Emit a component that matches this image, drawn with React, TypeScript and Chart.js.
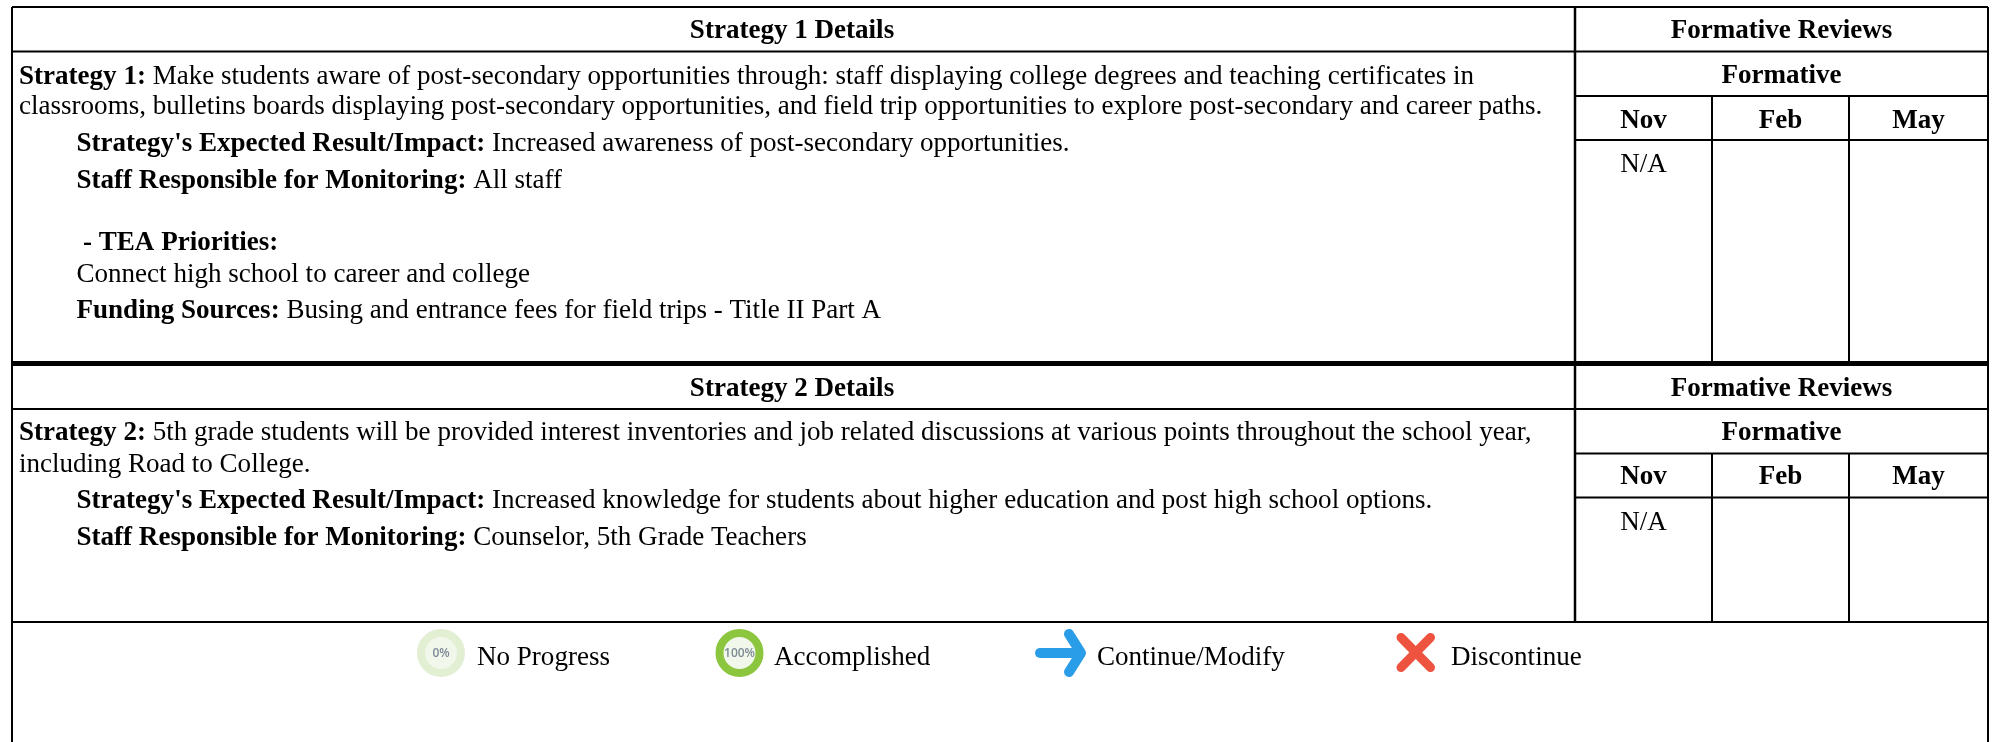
import React, { useEffect, useRef } from "react";
import { Chart, registerables } from "chart.js";

Chart.register(...registerables);

const WIDTH = 1993;
const HEIGHT = 742;
const SERIF = '"Liberation Serif"';
const BODY_PX = 27.05;

// Table structure
const columnEdges = [12, 1575, 1712, 1849, 1988];
const rowEdges = [7, 51.5, 96, 140, 363.5, 409, 453.5, 497.5, 622, 742];

// Text content: each line is a bold run then a regular run
const headerLabels = ["Strategy 1 Details", "Strategy 2 Details"];
const reviewLabels = ["Formative Reviews", "Formative"];
const monthLabels = ["Nov", "Feb", "May"];
const cellValue = "N/A";

const strategy1Lines: [string, string][] = [
  ["Strategy 1:", " Make students aware of post-secondary opportunities through: staff displaying college degrees and teaching certificates in"],
  ["", "classrooms, bulletins boards displaying post-secondary opportunities, and field trip opportunities to explore post-secondary and career paths."],
  ["Strategy's Expected Result/Impact:", " Increased awareness of post-secondary opportunities."],
  ["Staff Responsible for Monitoring:", " All staff"],
  ["- TEA Priorities:", ""],
  ["", "Connect high school to career and college"],
  ["Funding Sources:", " Busing and entrance fees for field trips - Title II Part A"],
];
const strategy1Baselines = [84, 114, 151, 188, 250, 282, 318];
const strategy1Indents = [19, 19, 76.5, 76.5, 83, 76.5, 76.5];

const strategy2Lines: [string, string][] = [
  ["Strategy 2:", " 5th grade students will be provided interest inventories and job related discussions at various points throughout the school year,"],
  ["", "including Road to College."],
  ["Strategy's Expected Result/Impact:", " Increased knowledge for students about higher education and post high school options."],
  ["Staff Responsible for Monitoring:", " Counselor, 5th Grade Teachers"],
];
const strategy2Baselines = [440, 472, 508, 545];
const strategy2Indents = [19, 19, 76.5, 76.5];

const legendLabels = ["No Progress", "Accomplished", "Continue/Modify", "Discontinue"];
const legendLabelX = [477, 774, 1097, 1451];
const progressLabels = ["0%", "100%"];

const INK = "#000000";

function rule(x1: number, y1: number, x2: number, y2: number, width: number, color: string = INK) {
  return {
    data: [{ x: x1, y: y1 }, { x: x2, y: y2 }],
    showLine: true,
    borderColor: color,
    borderWidth: width,
    pointRadius: 0,
    clip: false as const,
  };
}

function stroke(points: { x: number; y: number }[], color: string, width: number) {
  return {
    data: points,
    showLine: true,
    borderColor: color,
    borderWidth: width,
    borderCapStyle: "round" as const,
    borderJoinStyle: "round" as const,
    pointRadius: 0,
    clip: false as const,
  };
}

function ring(x: number, y: number, color: string) {
  return {
    data: [{ x, y }],
    showLine: false,
    pointRadius: 20,
    pointBorderWidth: 8,
    pointBorderColor: color,
    pointBackgroundColor: "#f1f7ea",
    clip: false as const,
  };
}

function buildDatasets() {
  const [c0, c1, c2, c3, c4] = columnEdges;
  const [r0, r1, r2, r3, r4, r5, r6, r7, r8, r9] = rowEdges;
  return [
    // outer frame and column dividers
    rule(c0, r0, c4, r0, 2),
    rule(c0, r0, c0, r9, 2),
    rule(c4, r0, c4, r9, 2),
    rule(c1, r0, c1, r8, 2.5),
    rule(c2, r2, c2, r4, 2),
    rule(c3, r2, c3, r4, 2),
    rule(c2, r6, c2, r8, 2),
    rule(c3, r6, c3, r8, 2),
    // horizontals
    rule(c0, r1, c4, r1, 2),
    rule(c1, r2, c4, r2, 2),
    rule(c1, r3, c4, r3, 2),
    rule(c0, r4, c4, r4, 5),
    rule(c0, r4, c4, r4, 1, "#8a8a8a"),
    rule(c0, r5, c4, r5, 2),
    rule(c1, r6, c4, r6, 2),
    rule(c1, r7, c4, r7, 2),
    rule(c0, r8, c4, r8, 2),
    // legend symbols
    ring(441, 653, "#e3efd3"),
    ring(739.5, 653, "#8cc63f"),
    stroke([{ x: 1040, y: 653 }, { x: 1080, y: 653 }], "#2a9de8", 10),
    stroke([{ x: 1069, y: 634 }, { x: 1081, y: 653 }, { x: 1069, y: 672 }], "#2a9de8", 10),
    stroke([{ x: 1401, y: 637.5 }, { x: 1430.5, y: 667.5 }], "#ee5340", 9),
    stroke([{ x: 1430.5, y: 637.5 }, { x: 1401, y: 667.5 }], "#ee5340", 9),
  ];
}

const tablePlugin = {
  id: "tableText",
  afterDatasetsDraw(chart: any) {
    const ctx: CanvasRenderingContext2D = chart.ctx;
    const px = (v: number) => chart.scales.x.getPixelForValue(v);
    const py = (v: number) => chart.scales.y.getPixelForValue(v);
    const bold = `bold ${BODY_PX}px ${SERIF}`;
    const normal = `${BODY_PX}px ${SERIF}`;

    ctx.save();
    ctx.fillStyle = INK;
    ctx.textBaseline = "alphabetic";

    const centered = (text: string, x: number, y: number, font: string) => {
      ctx.font = font;
      ctx.textAlign = "center";
      ctx.fillText(text, px(x), py(y));
    };
    const runs = (lines: [string, string][], xs: number[], ys: number[]) => {
      ctx.textAlign = "left";
      lines.forEach(([b, n], i) => {
        let x = px(xs[i]);
        if (b) {
          ctx.font = bold;
          ctx.fillText(b, x, py(ys[i]));
          x += ctx.measureText(b).width;
        }
        if (n) {
          ctx.font = normal;
          ctx.fillText(n, x, py(ys[i]));
        }
      });
    };

    const [c0, c1, c2, c3, c4] = columnEdges;
    const textMid = (c0 + c1) / 2 - 1.5;
    const reviewMid = (c1 + c4) / 2;
    const monthMids = [(c1 + c2) / 2, (c2 + c3) / 2, (c3 + c4) / 2];

    const blocks = [
      { head: 38, form: 83, month: 127.5, value: 172 },
      { head: 396, form: 440, month: 484, value: 530 },
    ];
    blocks.forEach((b, i) => {
      centered(headerLabels[i], textMid, b.head, bold);
      centered(reviewLabels[0], reviewMid, b.head, bold);
      centered(reviewLabels[1], reviewMid, b.form, bold);
      monthLabels.forEach((m, j) => centered(m, monthMids[j], b.month, bold));
      centered(cellValue, monthMids[0], b.value, normal);
    });

    runs(strategy1Lines, strategy1Indents, strategy1Baselines);
    runs(strategy2Lines, strategy2Indents, strategy2Baselines);

    ctx.textAlign = "left";
    ctx.font = normal;
    legendLabels.forEach((t, i) => ctx.fillText(t, px(legendLabelX[i]), py(665)));

    ctx.fillStyle = "#7d8a96";
    const badge = `600 12px "Open Sans"`;
    centered(progressLabels[0], 441, 657, badge);
    centered(progressLabels[1], 739.5, 657, badge);
    ctx.restore();
  },
};

export default function App() {
  const ref = useRef<HTMLCanvasElement>(null);
  useEffect(() => {
    if (!ref.current) return;
    const chart = new Chart(ref.current, {
      type: "scatter",
      data: { datasets: buildDatasets() as any },
      options: {
        animation: false,
        responsive: false,
        events: [],
        layout: { padding: 0, autoPadding: false },
        scales: {
          x: { type: "linear", display: false, min: 0, max: WIDTH },
          y: { type: "linear", display: false, min: 0, max: HEIGHT, reverse: true },
        },
        plugins: { legend: { display: false }, tooltip: { enabled: false }, title: { display: false } },
      },
      plugins: [tablePlugin],
    });
    return () => chart.destroy();
  }, []);
  return (
    <canvas
      ref={ref}
      width={WIDTH}
      height={HEIGHT}
      style={{ position: "absolute", left: 0, top: 0, width: WIDTH, height: HEIGHT, background: "#fff" }}
    />
  );
}
